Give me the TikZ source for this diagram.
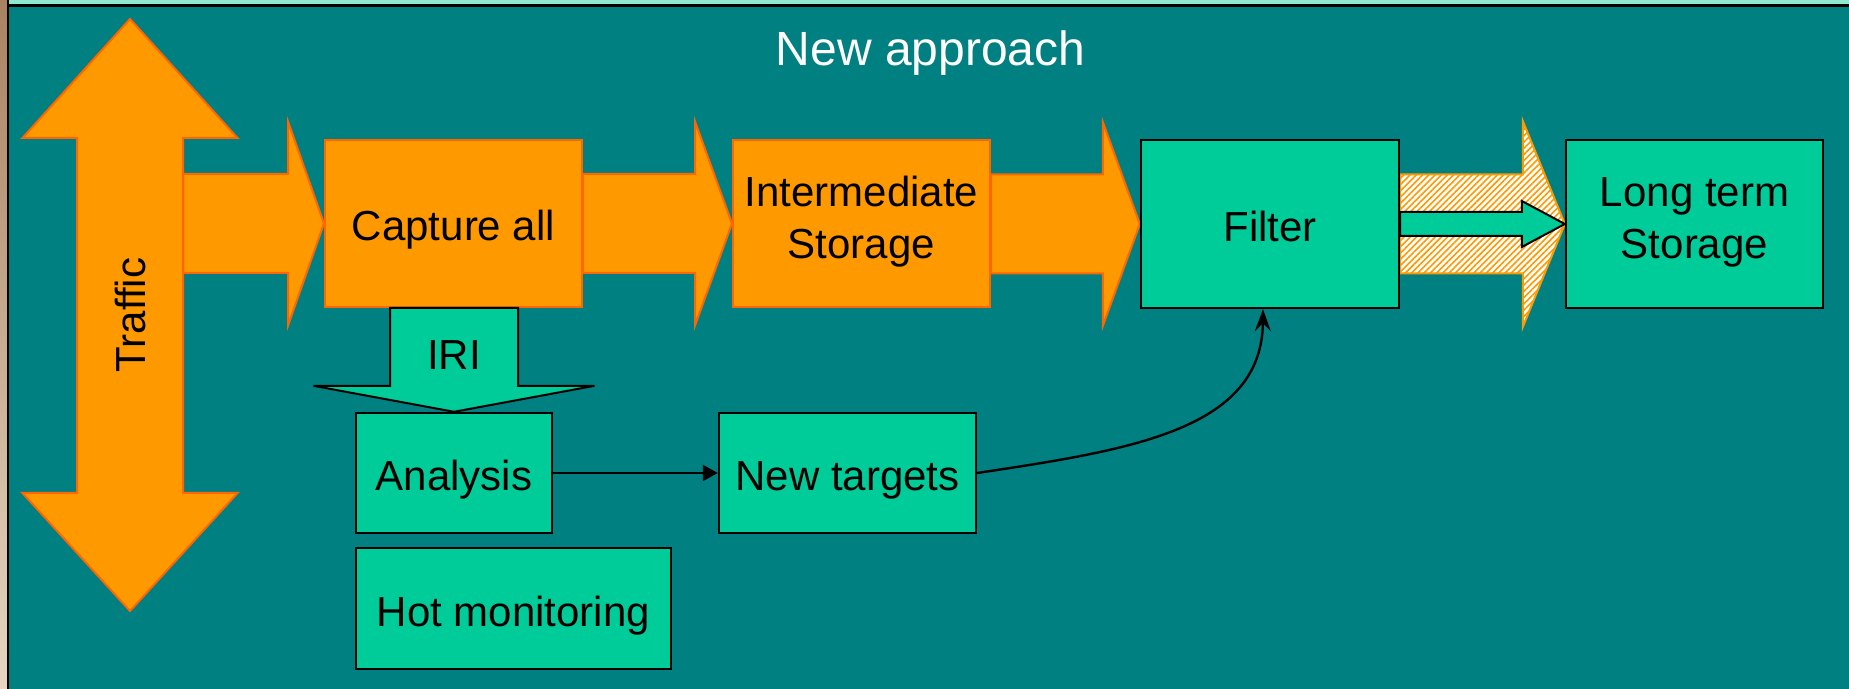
\documentclass[tikz,border=0pt]{standalone}
\usepackage{fontspec}
\setmainfont{Liberation Sans}
\usetikzlibrary{calc,arrows.meta,patterns.meta,backgrounds}
\definecolor{bgteal}{HTML}{008080}
\definecolor{boxgreen}{HTML}{00CC99}
\definecolor{arroworange}{HTML}{FF9900}
\definecolor{edgeorange}{HTML}{FF6600}
\definecolor{mintstrip}{HTML}{8FE9CF}
\definecolor{woodtop}{HTML}{A98361}
\definecolor{woodbottom}{HTML}{E6D6C2}

\begin{document}
\begin{tikzpicture}[x=0.5pt,y=-0.5pt,
    greenbox/.style={draw=black, line width=1.2pt, fill=boxgreen, align=center,
        inner sep=0pt, font=\fontsize{21}{26}\selectfont,
        execute at begin node={\rule[-6pt]{0pt}{29.5pt}}},
    orangebox/.style={greenbox, draw=edgeorange, line width=1pt, fill=arroworange},
    blockarrow/.style={draw=edgeorange, line width=1pt, fill=arroworange},
    link/.style={line width=1pt, -{Triangle[length=7.5pt,width=8pt]}}]
    \useasboundingbox (0,0) rectangle (1849,689);

    % Boxes of the pipeline
    \node[orangebox, minimum width=128.5pt, minimum height=83.5pt] (capture) at (453.5,223.5) {Capture all};
    \node[orangebox, minimum width=128.5pt, minimum height=83.5pt] (inter) at (861.5,223.5) {Intermediate\\Storage};
    \node[greenbox, minimum width=129pt, minimum height=84pt] (filter) at (1270,224) {Filter};
    \node[greenbox, minimum width=128.5pt, minimum height=84pt] (longterm) at (1694.5,224) {Long term\\Storage};

    % Boxes below
    \node[greenbox, minimum width=98pt, minimum height=60pt] (analysis) at (454,473) {Analysis};
    \node[greenbox, minimum width=128.5pt, minimum height=60pt] (targets) at (847.5,473) {New targets};
    \node[greenbox, minimum width=157.5pt, minimum height=60.5pt] (hot) at (513.5,608.5) {Hot monitoring};

    \node[text=white, anchor=base, font=\fontsize{24}{28}\selectfont] (title) at (930.5,66) {New approach};
    \coordinate (trafficR) at (183,224);

    \begin{scope}[on background layer]
        % Frame
        \fill[bgteal] (0,0) rectangle (1849,689);
        \fill[mintstrip] (9,0) rectangle (1849,4);
        \fill[black] (7,4) rectangle (1849,7);
        \shade[top color=woodtop, bottom color=woodbottom] (0,0) rectangle (7,689);
        \fill[black] (7,0) rectangle (9,689);

        % Block arrows
        \draw[blockarrow] let \p1=(trafficR), \p2=(capture.west) in
            (\x1,\y2+24.75pt) -- (\x2-18pt,\y2+24.75pt) -- (\x2-18pt,\y2+51pt) -- (\x2,\y2)
            -- (\x2-18pt,\y2-51pt) -- (\x2-18pt,\y2-24.75pt) -- (\x1,\y2-24.75pt) -- cycle;
        \draw[blockarrow] let \p1=(capture.east), \p2=(inter.west) in
            (\x1,\y2+24.75pt) -- (\x2-18.5pt,\y2+24.75pt) -- (\x2-18.5pt,\y2+51pt) -- (\x2,\y2)
            -- (\x2-18.5pt,\y2-51pt) -- (\x2-18.5pt,\y2-24.75pt) -- (\x1,\y2-24.75pt) -- cycle;
        \draw[blockarrow] let \p1=(inter.east), \p2=(filter.west) in
            (\x1,\y2+24.75pt) -- (\x2-18.5pt,\y2+24.75pt) -- (\x2-18.5pt,\y2+51pt) -- (\x2,\y2)
            -- (\x2-18.5pt,\y2-51pt) -- (\x2-18.5pt,\y2-24.75pt) -- (\x1,\y2-24.75pt) -- cycle;

        % Hatched arrow with the green one inside
        \draw[draw=arroworange, line width=1pt, preaction={fill=white},
              pattern={Lines[angle=45,distance=2.2pt,line width=0.8pt]}, pattern color=arroworange]
            let \p1=(filter.east), \p2=(longterm.west) in
            (\x1,\y2+24.75pt) -- (\x2-21pt,\y2+24.75pt) -- (\x2-21pt,\y2+51.5pt) -- (\x2,\y2)
            -- (\x2-21pt,\y2-51.5pt) -- (\x2-21pt,\y2-24.75pt) -- (\x1,\y2-24.75pt) -- cycle;
        \draw[draw=black, line width=1pt, fill=boxgreen] let \p1=(filter.east), \p2=(longterm.west) in
            (\x1,\y2+6pt) -- (\x2-21.5pt,\y2+6pt) -- (\x2-21.5pt,\y2+11.5pt) -- (\x2,\y2)
            -- (\x2-21.5pt,\y2-11.5pt) -- (\x2-21.5pt,\y2-6pt) -- (\x1,\y2-6pt) -- cycle;

        % Traffic
        \draw[blockarrow] (130,19) -- (237.5,138) -- (183,138) -- (183,493) -- (237.5,493)
            -- (130,611) -- (22.5,493) -- (77,493) -- (77,138) -- (22.5,138) -- cycle;
    \end{scope}
    \node[rotate=90, font=\fontsize{21}{26}\selectfont] (traffic) at (130,315) {Traffic};

    % IRI
    \draw[draw=black, line width=1pt, fill=boxgreen] let \p1=(capture.south), \p2=(analysis.north) in
        (\x2-32pt,\y1) -- (\x2-32pt,\y2+13pt) -- (\x2-70.25pt,\y2+13pt) -- (\x2,\y2)
        -- (\x2+70.25pt,\y2+13pt) -- (\x2+32pt,\y2+13pt) -- (\x2+32pt,\y1) -- cycle;
    \node[font=\fontsize{21}{26}\selectfont] (iri) at (454,355) {IRI};

    % Links
    \draw[link] (analysis) -- (targets);
    \draw[line width=1.2pt, -{Stealth[length=11pt,width=8pt,inset=4pt]}] (targets.east)
        .. controls (1130,450) and (1262,430) .. ($(filter.south)+(-7,0)$);
\end{tikzpicture}
\end{document}
